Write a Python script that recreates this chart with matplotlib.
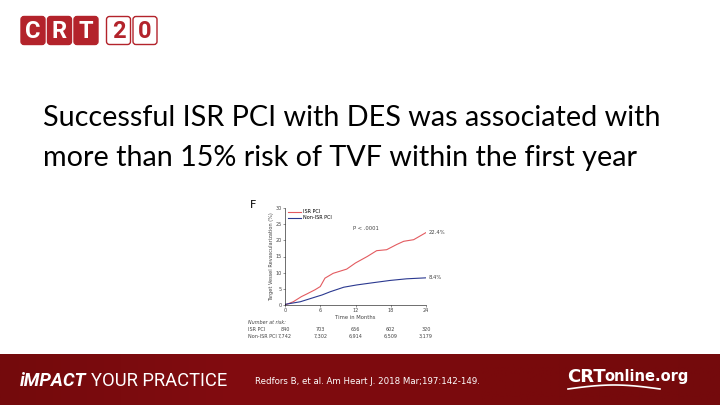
import numpy as np
import matplotlib.pyplot as plt
from matplotlib.patches import FancyBboxPatch
from matplotlib.colors import LinearSegmentedColormap

# curve data (months, % TVR)
isr_t = [0, 1.4, 2.8, 3.7, 5.1, 6.0, 6.8, 8.2, 10.5, 12.0, 14.0, 15.6, 17.3, 19.0, 20.2, 21.9, 24.0]
isr_v = [0, 1.0, 2.6, 3.4, 4.7, 5.7, 8.3, 9.8, 11.1, 13.0, 15.0, 16.8, 17.1, 18.7, 19.7, 20.2, 22.4]
non_t = [0, 2.6, 5.4, 6.3, 7.7, 10.0, 12.2, 15.0, 17.9, 20.7, 24.0]
non_v = [0.2, 1.0, 2.6, 3.1, 4.1, 5.5, 6.2, 6.9, 7.6, 8.1, 8.4]

risk_months = [0, 6, 12, 18, 24]
risk_isr = ["840", "703", "656", "602", "320"]
risk_non = ["7,742", "7,302", "6,914", "6,509", "3,179"]

title_lines = ["Successful ISR PCI with DES was associated with",
               "more than 15% risk of TVF within the first year"]

W, H = 720, 405
fig = plt.figure(figsize=(7.2, 4.05), dpi=100)
bg = fig.add_axes([0, 0, 1, 1])
bg.axis("off")

# CRT20 logo
for i, ch in enumerate("CRT20"):
    x0 = 21 + i * 26.5 + (6 if i >= 3 else 0)
    filled = i < 3
    bg.add_patch(FancyBboxPatch((x0, 16.5), 24, 28, boxstyle="round,pad=0,rounding_size=3",
                                fc="#b3232b" if filled else "white", ec="#b3232b", lw=1.0))
    bg.text(x0 + 12, 31, ch, ha="center", va="center", fontsize=17, fontweight="bold",
            family="Roboto", color="white" if filled else "#b3232b")

# title
for i, line in enumerate(title_lines):
    bg.text(43, 118 + i * 40, line, ha="left", va="center", fontsize=20.7,
            family="Lato", color="black")

# bottom banner
grad = np.linspace(0, 1, 256).reshape(1, -1)
cmap = LinearSegmentedColormap.from_list("b", ["#740a0c", "#820c10", "#7a0a0d", "#740a0c"])
bg.imshow(np.vstack([grad, grad]), extent=[0, W, H, 354], cmap=cmap, aspect="auto", zorder=0)
bg.set_xlim(0, W)
bg.set_ylim(H, 0)
bg.text(20, 381, "iMPACT", fontsize=13.2, fontweight="bold", style="italic", family="Roboto",
        color="white", va="center")
bg.text(91, 381, "YOUR PRACTICE", fontsize=13.2, family="Roboto", color="white", va="center")
bg.text(255, 381, "Redfors B, et al. Am Heart J. 2018 Mar;197:142-149.", fontsize=6.2,
        family="DejaVu Sans", color="white", va="center")
bg.text(567, 377, "CRT", fontsize=13, fontweight="bold", family="DejaVu Sans",
        color="white", va="center")
bg.text(604, 377, "online.org", fontsize=10.5, fontweight="bold", family="DejaVu Sans",
        color="white", va="center")
sx = np.linspace(568, 660, 40)
bg.plot(sx, 389 - 4 * np.sin((sx - 568) / 92 * np.pi), color="white", lw=1.2)

# KM plot
ax = fig.add_axes([285 / W, 1 - 305 / H, 141 / W, 97 / H])
ax.plot(isr_t, isr_v, color="#e35b60", lw=0.8, label="ISR PCI")
ax.plot(non_t, non_v, color="#2b3990", lw=0.8, label="Non-ISR PCI")
ax.set_xlim(0, 24)
ax.set_ylim(0, 30)
ax.set_xticks(risk_months)
ax.set_yticks(range(0, 31, 5))
ax.tick_params(labelsize=3.5, length=1.5, width=0.4, pad=1, colors="#444444")
for s in ["top", "right"]:
    ax.spines[s].set_visible(False)
for s in ["left", "bottom"]:
    ax.spines[s].set_linewidth(0.4)
ax.set_xlabel("Time in Months", fontsize=3.8, labelpad=1, color="#444444")
ax.set_ylabel("Target Vessel Revascularization (%)", fontsize=3.6, labelpad=1, color="#444444")
ax.legend(loc="upper left", fontsize=3.5, frameon=False, handlelength=2.5, borderpad=0.2,
          labelspacing=0.2, handletextpad=0.5, bbox_to_anchor=(0.0, 1.02))
ax.text(11.6, 23.8, "P < .0001", fontsize=3.8, va="center", color="#444444")
ax.text(24.4, isr_v[-1], "22.4%", fontsize=3.8, va="center", color="#444444")
ax.text(24.4, non_v[-1], "8.4%", fontsize=3.8, va="center", color="#444444")
ax.text(-0.25, 0.98, "F", transform=ax.transAxes, fontsize=8, ha="left", va="bottom")

# number at risk
ax.text(-6.3, -5.3, "Number at risk:", fontsize=3.5, style="italic", va="center",
        color="#444444", clip_on=False)
ax.text(-6.3, -7.7, "ISR PCI", fontsize=3.5, va="center", color="#444444", clip_on=False)
ax.text(-6.3, -9.6, "Non-ISR PCI", fontsize=3.5, va="center", color="#444444", clip_on=False)
for m, a, b in zip(risk_months, risk_isr, risk_non):
    ax.text(m, -7.7, a, fontsize=3.5, ha="center", va="center", color="#444444", clip_on=False)
    ax.text(m, -9.6, b, fontsize=3.5, ha="center", va="center", color="#444444", clip_on=False)

fig.savefig("out.png", dpi=100)
